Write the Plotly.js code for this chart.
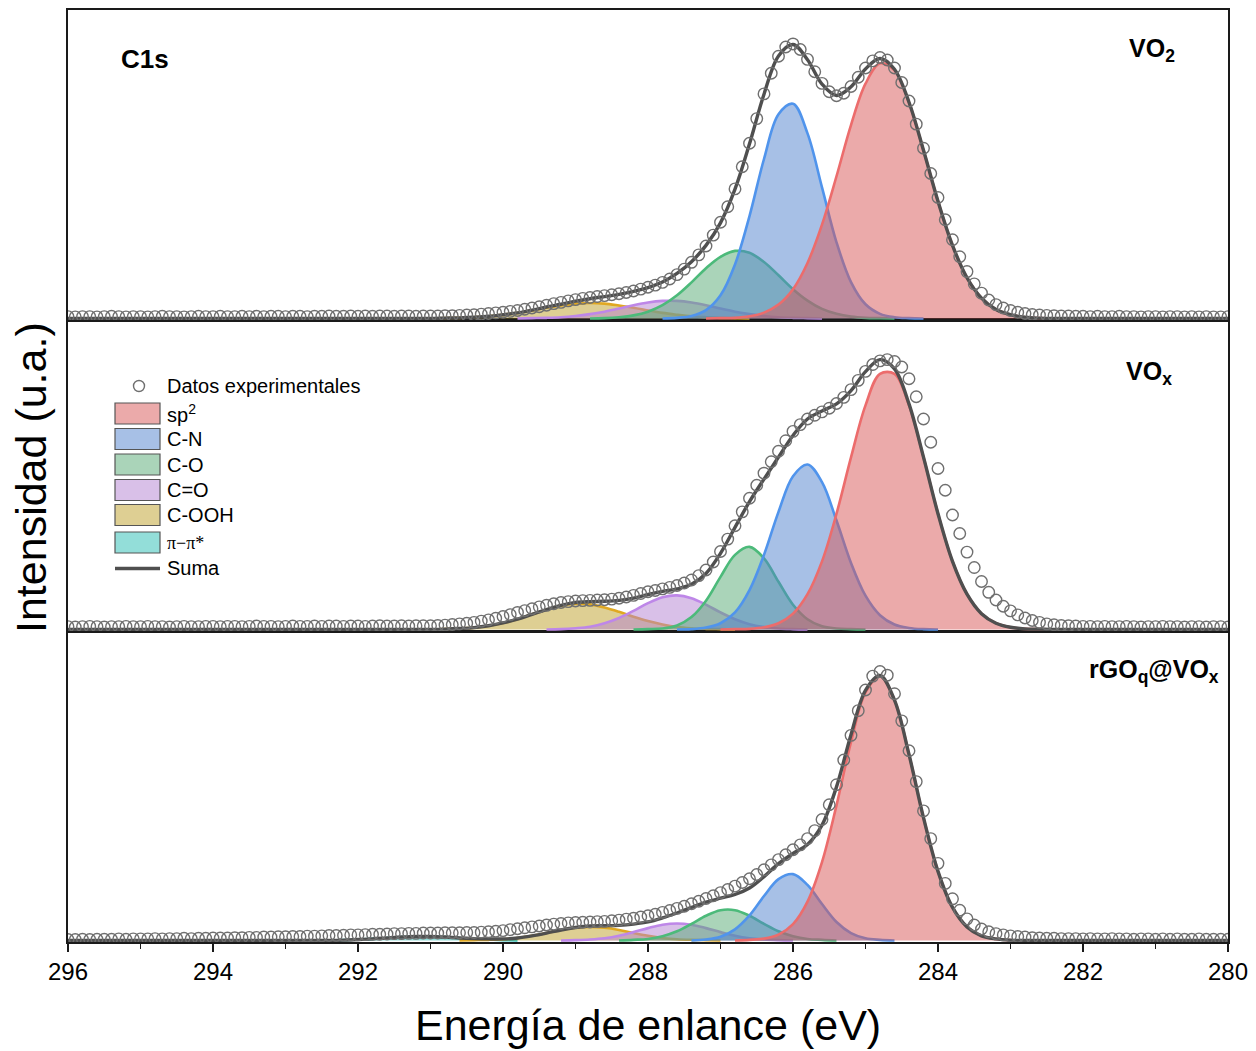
<!DOCTYPE html>
<html>
<head>
<meta charset="utf-8">
<script src="https://cdn.plot.ly/plotly-3.0.1.min.js"></script>
<style>html,body{margin:0;padding:0;background:#fff;}#chart{width:1256px;height:1051px;}</style>
</head>
<body>
<div id="chart"></div>
<script>
// ---------- DATA ----------
const xTicks = [296, 294, 292, 290, 288, 286, 284, 282, 280];
const panelLabels = ['<b>VO<sub>2</sub></b>', '<b>VO<sub>x</sub></b>', '<b>rGO<sub>q</sub>@VO<sub>x</sub></b>'];
const legendNames = ['Datos experimentales', 'sp<sup>2</sup>', 'C-N', 'C-O', 'C=O', 'C-OOH', 'π−π*', 'Suma'];

// energy grid of the measured points (eV)
const energyExp = [
296.0,295.9,295.8,295.7,295.6,295.5,295.4,295.3,295.2,295.1,
295.0,294.9,294.8,294.7,294.6,294.5,294.4,294.3,294.2,294.1,
294.0,293.9,293.8,293.7,293.6,293.5,293.4,293.3,293.2,293.1,
293.0,292.9,292.8,292.7,292.6,292.5,292.4,292.3,292.2,292.1,
292.0,291.9,291.8,291.7,291.6,291.5,291.4,291.3,291.2,291.1,
291.0,290.9,290.8,290.7,290.6,290.5,290.4,290.3,290.2,290.1,
290.0,289.9,289.8,289.7,289.6,289.5,289.4,289.3,289.2,289.1,
289.0,288.9,288.8,288.7,288.6,288.5,288.4,288.3,288.2,288.1,
288.0,287.9,287.8,287.7,287.6,287.5,287.4,287.3,287.2,287.1,
287.0,286.9,286.8,286.7,286.6,286.5,286.4,286.3,286.2,286.1,
286.0,285.9,285.8,285.7,285.6,285.5,285.4,285.3,285.2,285.1,
285.0,284.9,284.8,284.7,284.6,284.5,284.4,284.3,284.2,284.1,
284.0,283.9,283.8,283.7,283.6,283.5,283.4,283.3,283.2,283.1,
283.0,282.9,282.8,282.7,282.6,282.5,282.4,282.3,282.2,282.1,
282.0,281.9,281.8,281.7,281.6,281.5,281.4,281.3,281.2,281.1,
281.0,280.9,280.8,280.7,280.6,280.5,280.4,280.3,280.2,280.1,
280.0];

// energy grid of the fitted envelope (eV)
const energyFit = [
296.0,295.8,295.6,295.4,295.2,295.0,294.8,294.6,294.4,294.2,
294.0,293.8,293.6,293.4,293.2,293.0,292.8,292.6,292.4,292.2,
292.0,291.8,291.6,291.4,291.2,291.0,290.8,290.6,290.4,290.2,
290.0,289.8,289.6,289.4,289.2,289.0,288.8,288.6,288.4,288.2,
288.0,287.8,287.6,287.4,287.2,287.0,286.8,286.6,286.4,286.2,
286.0,285.8,285.6,285.4,285.2,285.0,284.8,284.6,284.4,284.2,
284.0,283.8,283.6,283.4,283.2,283.0,282.8,282.6,282.4,282.2,
282.0,281.8,281.6,281.4,281.2,281.0,280.8,280.6,280.4,280.2,
280.0];

// ---- VO2 (top) ----
const dataVO2 = [
.006,.005,.006,.006,.005,.006,.007,.006,.005,.006,
.006,.005,.006,.007,.006,.006,.005,.006,.007,.006,
.006,.007,.006,.006,.007,.006,.007,.006,.007,.007,
.006,.007,.007,.006,.007,.007,.008,.007,.007,.008,
.007,.008,.007,.008,.008,.007,.008,.008,.007,.008,
.008,.008,.009,.009,.010,.011,.012,.014,.016,.018,
.020,.023,.026,.030,.034,.038,.043,.048,.052,.057,
.061,.065,.068,.071,.074,.077,.080,.084,.089,.095,
.101,.108,.117,.128,.142,.160,.182,.206,.235,.270,
.312,.362,.420,.492,.568,.648,.728,.795,.850,.880,
.890,.872,.840,.800,.762,.735,.722,.730,.752,.782,
.812,.835,.846,.838,.812,.765,.705,.630,.552,.470,
.392,.320,.255,.200,.152,.112,.082,.060,.045,.034,
.026,.020,.016,.013,.011,.010,.009,.008,.008,.007,
.007,.006,.007,.006,.006,.007,.006,.006,.005,.006,
.006,.005,.006,.006,.005,.006,.005,.006,.005,.005,
.006];
const sp2VO2_x = [287.2,287.0,286.8,286.6,286.4,286.2,286.0,285.8,285.6,285.4,285.2,285.0,284.8,284.6,284.4,284.2,284.0,283.8,283.6,283.4,283.2,283.0,282.8,282.6,282.4];
const sp2VO2_y = [0,.001,.002,.007,.019,.045,.095,.180,.304,.461,.627,.761,.827,.804,.700,.545,.380,.237,.132,.066,.029,.012,.004,.001,0];
const cnVO2_x = [287.8,287.6,287.4,287.2,287.0,286.8,286.6,286.4,286.2,286.0,285.8,285.6,285.4,285.2,285.0,284.8,284.6,284.4,284.2];
const cnVO2_y = [0,.002,.008,.027,.075,.175,.332,.517,.662,.696,.600,.425,.247,.118,.046,.015,.004,.001,0];
const coVO2_x = [288.8,288.6,288.4,288.2,288.0,287.8,287.6,287.4,287.2,287.0,286.8,286.6,286.4,286.2,286.0,285.8,285.6,285.4,285.2,285.0,284.8,284.6];
const coVO2_y = [0,.001,.004,.010,.022,.043,.075,.117,.163,.200,.219,.213,.183,.140,.095,.058,.031,.015,.006,.002,.001,0];
const c2oVO2_x = [289.8,289.6,289.4,289.2,289.0,288.8,288.6,288.4,288.2,288.0,287.8,287.6,287.4,287.2,287.0,286.8,286.6,286.4,286.2,286.0,285.8,285.6];
const c2oVO2_y = [0,.001,.002,.004,.008,.014,.022,.032,.043,.052,.057,.057,.052,.043,.032,.022,.014,.008,.004,.002,.001,0];
const coohVO2_x = [291.2,291.0,290.8,290.6,290.4,290.2,290.0,289.8,289.6,289.4,289.2,289.0,288.8,288.6,288.4,288.2,288.0,287.8,287.6,287.4,287.2,287.0,286.8,286.6];
const coohVO2_y = [0,0,.001,.002,.004,.007,.012,.018,.026,.035,.042,.048,.050,.048,.042,.035,.026,.018,.012,.007,.004,.002,.001,0];

// ---- VOx (middle) ----
const dataVOx = [
.009,.008,.009,.010,.009,.008,.009,.009,.010,.009,
.009,.010,.009,.009,.008,.009,.010,.009,.009,.010,
.010,.009,.010,.010,.009,.010,.011,.010,.010,.009,
.010,.011,.010,.010,.011,.010,.011,.011,.010,.011,
.011,.010,.011,.012,.011,.011,.012,.011,.012,.012,
.012,.013,.014,.016,.018,.020,.023,.027,.031,.036,
.042,.048,.055,.061,.067,.073,.078,.083,.087,.090,
.092,.093,.094,.095,.096,.098,.101,.105,.110,.116,
.122,.126,.131,.136,.142,.150,.160,.174,.192,.218,
.252,.292,.335,.380,.424,.466,.505,.542,.576,.610,
.640,.662,.680,.692,.703,.715,.730,.750,.775,.805,
.834,.856,.868,.872,.866,.848,.810,.752,.680,.605,
.520,.450,.370,.310,.250,.200,.155,.120,.095,.075,
.060,.047,.037,.029,.023,.018,.015,.013,.012,.011,
.010,.010,.009,.010,.009,.009,.010,.009,.008,.009,
.009,.010,.009,.009,.008,.009,.009,.008,.009,.009,
.008];
const sp2VOx_x = [287.0,286.8,286.6,286.4,286.2,286.0,285.8,285.6,285.4,285.2,285.0,284.8,284.6,284.4,284.2,284.0,283.8,283.6,283.4,283.2,283.0,282.8,282.6,282.4];
const sp2VOx_y = [0,.001,.002,.007,.020,.051,.114,.220,.374,.556,.724,.826,.826,.724,.556,.374,.220,.114,.051,.020,.007,.002,.001,0];
const cnVOx_x = [287.6,287.4,287.2,287.0,286.8,286.6,286.4,286.2,286.0,285.8,285.6,285.4,285.2,285.0,284.8,284.6,284.4,284.2,284.0];
const cnVOx_y = [0,.001,.006,.020,.055,.127,.241,.380,.495,.533,.476,.352,.215,.109,.046,.016,.005,.001,0];
const coVOx_x = [288.2,288.0,287.8,287.6,287.4,287.2,287.0,286.8,286.6,286.4,286.2,286.0,285.8,285.6,285.4,285.2,285.0];
const coVOx_y = [0,.001,.003,.013,.040,.093,.170,.241,.267,.230,.154,.080,.033,.010,.003,.001,0];
const c2oVOx_x = [289.4,289.2,289.0,288.8,288.6,288.4,288.2,288.0,287.8,287.6,287.4,287.2,287.0,286.8,286.6,286.4,286.2,286.0,285.8];
const c2oVOx_y = [0,.001,.004,.009,.020,.037,.060,.085,.104,.110,.101,.080,.055,.033,.017,.008,.003,.001,0];
const coohVOx_x = [291.0,290.8,290.6,290.4,290.2,290.0,289.8,289.6,289.4,289.2,289.0,288.8,288.6,288.4,288.2,288.0,287.8,287.6,287.4,287.2,287.0,286.8];
const coohVOx_y = [0,.001,.003,.006,.012,.021,.033,.049,.064,.077,.083,.081,.071,.057,.041,.027,.016,.008,.004,.002,.001,0];

// ---- rGOq@VOx (bottom) ----
const dataRGO = [
.003,.003,.004,.003,.004,.004,.004,.005,.004,.005,
.005,.005,.006,.005,.006,.006,.007,.006,.007,.007,
.008,.008,.008,.009,.009,.010,.010,.011,.011,.012,
.012,.013,.013,.014,.014,.015,.016,.016,.017,.018,
.018,.019,.020,.020,.021,.022,.022,.023,.023,.024,
.024,.024,.025,.025,.025,.026,.026,.027,.028,.030,
.032,.035,.038,.041,.044,.047,.050,.053,.055,.057,
.058,.059,.060,.061,.062,.064,.066,.069,.072,.076,
.080,.085,.091,.097,.104,.111,.119,.127,.136,.145,
.155,.165,.176,.188,.200,.214,.229,.245,.262,.278,
.294,.310,.330,.356,.392,.440,.505,.585,.665,.745,
.812,.857,.872,.860,.800,.712,.615,.515,.420,.330,
.250,.185,.135,.098,.070,.050,.037,.028,.022,.018,
.015,.013,.011,.009,.008,.007,.007,.006,.006,.006,
.005,.006,.005,.005,.006,.005,.005,.004,.005,.005,
.004,.005,.004,.005,.004,.004,.005,.004,.004,.004,
.004];
const sp2RGO_x = [286.8,286.6,286.4,286.2,286.0,285.8,285.6,285.4,285.2,285.0,284.8,284.6,284.4,284.2,284.0,283.8,283.6,283.4,283.2,283.0,282.8];
const sp2RGO_y = [0,.002,.006,.019,.053,.126,.254,.438,.643,.804,.857,.779,.603,.398,.224,.107,.044,.015,.005,.001,0];
const cnRGO_x = [287.4,287.2,287.0,286.8,286.6,286.4,286.2,286.0,285.8,285.6,285.4,285.2,285.0,284.8,284.6];
const cnRGO_y = [0,.003,.012,.036,.081,.144,.199,.215,.180,.118,.060,.024,.007,.002,0];
const coRGO_x = [288.4,288.2,288.0,287.8,287.6,287.4,287.2,287.0,286.8,286.6,286.4,286.2,286.0,285.8,285.6,285.4];
const coRGO_y = [0,.002,.005,.014,.030,.054,.080,.098,.098,.080,.054,.030,.014,.005,.002,0];
const c2oRGO_x = [289.2,289.0,288.8,288.6,288.4,288.2,288.0,287.8,287.6,287.4,287.2,287.0,286.8,286.6,286.4,286.2,286.0];
const c2oRGO_y = [0,.001,.003,.007,.015,.027,.040,.051,.055,.051,.040,.027,.015,.007,.003,.001,0];
const coohRGO_x = [290.6,290.4,290.2,290.0,289.8,289.6,289.4,289.2,289.0,288.8,288.6,288.4,288.2,288.0,287.8,287.6,287.4,287.2,287.0];
const coohRGO_y = [0,.001,.002,.004,.008,.015,.024,.034,.041,.044,.041,.034,.024,.015,.008,.004,.002,.001,0];
const piRGO_x = [292.6,292.4,292.2,292.0,291.8,291.6,291.4,291.2,291.0,290.8,290.6,290.4,290.2,290.0,289.8];
const piRGO_y = [0,0,.001,.003,.005,.008,.011,.013,.013,.011,.008,.005,.003,.001,0];

// ---------- STYLES ----------
const styles = {
  'C-OOH': {line: 'rgb(224,168,34)', fill: 'rgba(190,160,40,0.5)'},
  'C=O':   {line: 'rgb(190,135,232)', fill: 'rgba(180,130,210,0.5)'},
  'C-O':   {line: 'rgb(76,186,122)', fill: 'rgba(85,170,115,0.5)'},
  'C-N':   {line: 'rgb(80,148,236)', fill: 'rgba(80,130,205,0.5)'},
  'sp2':   {line: 'rgb(236,108,108)', fill: 'rgba(215,85,85,0.5)'},
  'pi':    {line: 'rgb(48,196,192)', fill: 'rgba(40,190,180,0.5)'}
};
const sumColor = '#4f4f4f';
const dotColor = '#6f6f6f';

const panels = [
  {xa: 'x3', ya: 'y3', data: dataVO2, comps: [
    {k: 'C-OOH', x: coohVO2_x, y: coohVO2_y}, {k: 'C=O', x: c2oVO2_x, y: c2oVO2_y},
    {k: 'C-O', x: coVO2_x, y: coVO2_y}, {k: 'C-N', x: cnVO2_x, y: cnVO2_y}, {k: 'sp2', x: sp2VO2_x, y: sp2VO2_y}]},
  {xa: 'x2', ya: 'y2', data: dataVOx, comps: [
    {k: 'C-OOH', x: coohVOx_x, y: coohVOx_y}, {k: 'C=O', x: c2oVOx_x, y: c2oVOx_y},
    {k: 'C-O', x: coVOx_x, y: coVOx_y}, {k: 'C-N', x: cnVOx_x, y: cnVOx_y}, {k: 'sp2', x: sp2VOx_x, y: sp2VOx_y}]},
  {xa: 'x', ya: 'y', data: dataRGO, comps: [
    {k: 'pi', x: piRGO_x, y: piRGO_y}, {k: 'C-OOH', x: coohRGO_x, y: coohRGO_y}, {k: 'C=O', x: c2oRGO_x, y: c2oRGO_y},
    {k: 'C-O', x: coRGO_x, y: coRGO_y}, {k: 'C-N', x: cnRGO_x, y: cnRGO_y}, {k: 'sp2', x: sp2RGO_x, y: sp2RGO_y}]}
];

function envelope(comps) {
  return energyFit.map(e => comps.reduce((s, c) => {
    const i = c.x.findIndex(v => Math.abs(v - e) < 1e-6);
    return s + (i >= 0 ? c.y[i] : 0);
  }, 0));
}

const traces = [];
panels.forEach(p => {
  p.comps.forEach(c => {
    traces.push({x: c.x, y: c.y, xaxis: p.xa, yaxis: p.ya, type: 'scatter', mode: 'lines',
      line: {color: styles[c.k].line, width: 2.6, shape: 'spline', smoothing: 1},
      fill: 'tozeroy', fillcolor: styles[c.k].fill, showlegend: false, hoverinfo: 'skip'});
  });
  traces.push({x: energyFit, y: envelope(p.comps), xaxis: p.xa, yaxis: p.ya, type: 'scatter', mode: 'lines',
    line: {color: sumColor, width: 3.4, shape: 'spline', smoothing: 1}, showlegend: false, hoverinfo: 'skip'});
  traces.push({x: energyExp, y: p.data, xaxis: p.xa, yaxis: p.ya, type: 'scatter', mode: 'markers',
    marker: {symbol: 'circle-open', size: 11.5, color: dotColor, line: {width: 1.4, color: dotColor}},
    showlegend: false, hoverinfo: 'skip'});
});

// ---------- LAYOUT ----------
const L = 68, R = 1228, T = 10, B = 942;
const px2x = p => (p - L) / (R - L);
const px2y = p => (B - p) / (B - T);

const font = 'Arial, "Liberation Sans", sans-serif';
const frame = {showline: true, mirror: true, linecolor: '#1a1a1a', linewidth: 1.6, showgrid: false, zeroline: false};
const yCommon = Object.assign({}, frame, {range: [-0.005, 1.0], ticks: '', showticklabels: false, fixedrange: true});
const xHidden = Object.assign({}, frame, {range: [296, 280], matches: 'x', ticks: '', showticklabels: false});

const layout = {
  width: 1256, height: 1051,
  margin: {l: L, r: 1256 - R, t: T, b: 1051 - B, pad: 0},
  paper_bgcolor: '#fff', plot_bgcolor: '#fff',
  showlegend: false,
  font: {family: font, color: '#000'},
  xaxis: Object.assign({}, frame, {anchor: 'y', range: [296, 280], tickvals: xTicks, ticktext: xTicks.map(String),
    ticks: 'outside', ticklen: 8, tickwidth: 1.6, tickcolor: '#1a1a1a',
    tickfont: {size: 24, family: font, color: '#000'},
    minor: {dtick: 1, ticks: 'outside', ticklen: 5, tickwidth: 1.4, tickcolor: '#1a1a1a', showgrid: false}}),
  xaxis2: Object.assign({}, xHidden, {anchor: 'y2'}),
  xaxis3: Object.assign({}, xHidden, {anchor: 'y3'}),
  yaxis: Object.assign({}, yCommon, {domain: [0, px2y(632)], anchor: 'x'}),
  yaxis2: Object.assign({}, yCommon, {domain: [px2y(631), px2y(320)], anchor: 'x2'}),
  yaxis3: Object.assign({}, yCommon, {domain: [px2y(320), 1], anchor: 'x3'}),
  annotations: [], shapes: []
};

const A = layout.annotations, S = layout.shapes;
A.push({xref: 'paper', yref: 'paper', x: px2x(648), y: px2y(1025), text: 'Energía de enlance (eV)', showarrow: false,
  xanchor: 'center', yanchor: 'middle', font: {size: 43, family: font, color: '#000'}});
A.push({xref: 'paper', yref: 'paper', x: px2x(31), y: px2y(478), text: 'Intensidad (u.a.)', showarrow: false, textangle: -90,
  xanchor: 'center', yanchor: 'middle', font: {size: 43, family: font, color: '#000'}});
A.push({xref: 'paper', yref: 'paper', x: px2x(145), y: px2y(59), text: '<b>C1s</b>', showarrow: false,
  xanchor: 'center', yanchor: 'middle', font: {size: 26, family: font, color: '#000'}});
const labelPos = [[1177, 50], [1174, 373], [1221, 671]];
panelLabels.forEach((t, i) => A.push({xref: 'paper', yref: 'paper', x: px2x(labelPos[i][0]), y: px2y(labelPos[i][1]), text: t,
  showarrow: false, xanchor: 'right', yanchor: 'middle', font: {size: 25, family: font, color: '#000'}}));

// legend (drawn in the VOx panel)
const rowY = [386, 413.5, 439, 464.5, 490, 515, 542.5, 568.5];
const patchKeys = [null, 'sp2', 'C-N', 'C-O', 'C=O', 'C-OOH', 'pi', null];
legendNames.forEach((n, i) => {
  const y = rowY[i];
  if (i === 0) {
    S.push({type: 'circle', xref: 'paper', yref: 'paper', x0: px2x(133.5), x1: px2x(144.5), y0: px2y(391.5), y1: px2y(380.5),
      line: {color: dotColor, width: 1.4}, fillcolor: 'rgba(0,0,0,0)'});
  } else if (i === legendNames.length - 1) {
    S.push({type: 'line', xref: 'paper', yref: 'paper', x0: px2x(115), x1: px2x(160), y0: px2y(y), y1: px2y(y),
      line: {color: sumColor, width: 3.4}});
  } else {
    S.push({type: 'rect', xref: 'paper', yref: 'paper', x0: px2x(115), x1: px2x(160), y0: px2y(y + 10.5), y1: px2y(y - 10.5),
      line: {color: '#555', width: 1.2}, fillcolor: styles[patchKeys[i]].fill});
  }
  const isPi = patchKeys[i] === 'pi';
  A.push({xref: 'paper', yref: 'paper', x: px2x(165), y: px2y(y), text: n, showarrow: false, xanchor: 'left', yanchor: 'middle',
    font: {size: isPi ? 18 : 20, family: isPi ? '"Liberation Serif", "DejaVu Serif", serif' : font, color: '#000'}});
});

Plotly.newPlot('chart', traces, layout, {staticPlot: true, displayModeBar: false});
</script>
</body>
</html>
